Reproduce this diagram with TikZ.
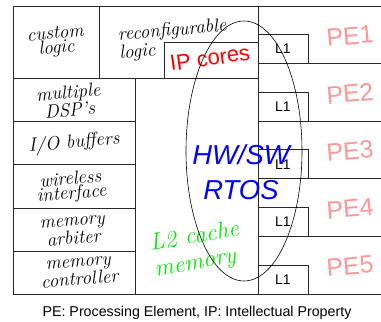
\documentclass[tikz,border=0pt]{standalone}
\usepackage{fontspec}
\setsansfont{Liberation Sans}
\definecolor{pepink}{RGB}{255,150,150}
\definecolor{l2green}{RGB}{0,235,0}
\definecolor{rtosblue}{RGB}{0,0,255}
\definecolor{ipred}{RGB}{255,0,0}
\begin{document}
\begin{tikzpicture}[x=1bp,y=-1bp,
  frame/.style={draw=black!85, line width=0.8bp},
  unitlabel/.style={font=\itshape\fontsize{19}{14.5}\selectfont, align=center, rotate=5, inner sep=0pt},
  pelabel/.style={font=\sffamily\fontsize{25}{25}\selectfont, text=pepink, rotate=5, inner sep=0pt},
  lonelabel/.style={font=\sffamily\fontsize{14}{14}\selectfont, inner sep=0pt},
  lonebox/.style={frame}]
\useasboundingbox (0,0) rectangle (381,322);

% outer frame and main partitions
\draw[frame] (381,6) -- (13,6) -- (13,294) -- (381,294);
\draw[frame] (99,6) -- (99,78);
\draw[frame] (13,78) -- (258,78);
\draw[frame] (258,6) -- (258,294);
\draw[frame] (135,78) -- (135,294);
\foreach \yy in {121,164.5,208,251} \draw[frame] (13,\yy) -- (135,\yy);
% IP cores box inside the reconfigurable logic
\draw[frame] (164,78) -- (164,42) -- (258,42);

% processing elements with their L1 caches
\foreach \yy in {63.6,121.2,178.8,236.4} \draw[frame] (258,\yy) -- (381,\yy);
\foreach \k/\top in {1/6,2/63.6,3/121.2,4/178.8,5/236.4}{
  \pgfmathsetmacro{\bot}{\top+57.6}
  \draw[lonebox] (258,\bot-29) rectangle (308,\bot);
  \node[lonelabel] (l1\k) at (283,\bot-14.5) {L1};
  \node[pelabel] (pe\k) at (350,\top+30) {PE\k};
}

% functional units
\node[unitlabel] (custom) at (56,42) {custom\\logic};
\node[unitlabel, align=left] (reconf) at (173,40) {reconfigurable\\logic};
\node[font=\sffamily\fontsize{22}{22}\selectfont, text=ipred, rotate=8, inner sep=0pt] (ipcores) at (210,58) {IP cores};
\node[unitlabel] (dsp) at (69,101) {multiple\\DSP's};
\node[unitlabel] (iobuf) at (74,143) {I/O buffers};
\node[unitlabel] (wireless) at (71,187) {wireless\\interface};
\node[unitlabel] (arbiter) at (73,231) {memory\\arbiter};
\node[unitlabel] (memctrl) at (79,272) {memory\\controller};

% shared memory and operating system
\node[font=\itshape\fontsize{24}{26}\selectfont, text=l2green, align=left, rotate=10, inner sep=0pt] (l2) at (197,250) {L2 cache\\memory};
\draw[line width=0.6bp] (244,151) ellipse [x radius=58bp, y radius=130bp];
\node[font=\sffamily\itshape\fontsize{27.5}{35}\selectfont, text=rtosblue, align=center, inner sep=0pt] (rtos) at (241,172) {HW/SW\\RTOS};

% legend
\node[font=\sffamily\fontsize{14.3}{14.3}\selectfont, anchor=base, inner sep=0pt] (legend) at (197,316) {PE: Processing Element, IP: Intellectual Property};
\end{tikzpicture}
\end{document}
